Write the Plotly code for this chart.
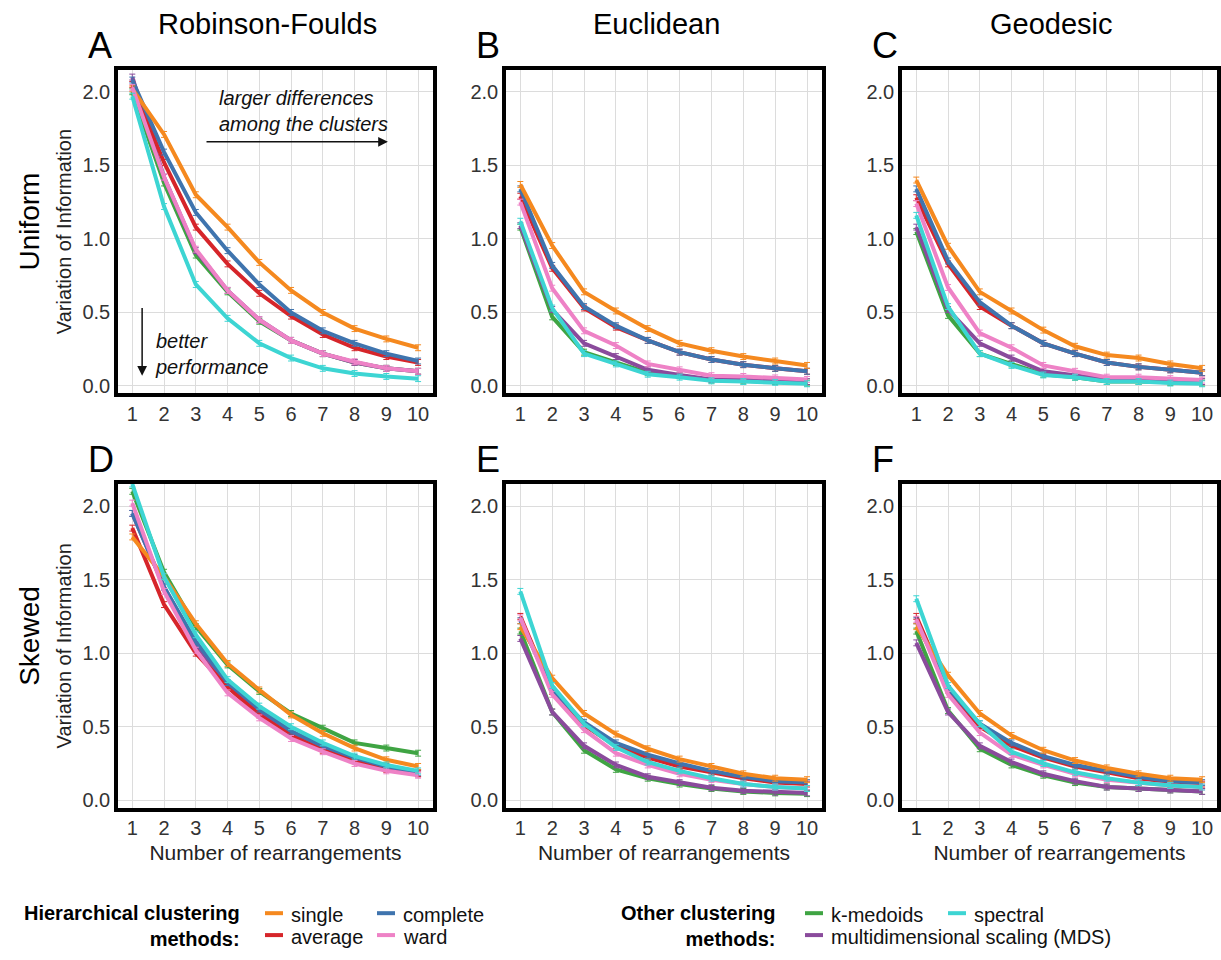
import plotly.graph_objects as go

REARR = [1, 2, 3, 4, 5, 6, 7, 8, 9, 10]
METHODS = ["k-medoids", "multidimensional scaling (MDS)", "average", "complete",
           "single", "ward", "spectral"]
COLORS = {
    "single": "#F5891F",
    "average": "#D6252A",
    "complete": "#3F74AE",
    "ward": "#EE82C6",
    "k-medoids": "#3FA443",
    "multidimensional scaling (MDS)": "#8A4B9C",
    "spectral": "#3DD5D3",
}
ERR = 0.02

# Panel A: Robinson-Foulds, Uniform
A_single   = [2.02, 1.71, 1.30, 1.08, 0.84, 0.65, 0.50, 0.39, 0.32, 0.26]
A_complete = [2.08, 1.59, 1.18, 0.92, 0.69, 0.50, 0.375, 0.29, 0.22, 0.17]
A_average  = [2.05, 1.52, 1.08, 0.83, 0.63, 0.475, 0.35, 0.26, 0.20, 0.16]
A_ward     = [2.03, 1.42, 0.93, 0.65, 0.45, 0.31, 0.22, 0.165, 0.12, 0.10]
A_kmed     = [2.00, 1.38, 0.89, 0.64, 0.44, 0.31, 0.22, 0.16, 0.12, 0.10]
A_mds      = [2.10, 1.42, 0.92, 0.65, 0.45, 0.31, 0.22, 0.16, 0.12, 0.10]
A_spectral = [1.97, 1.22, 0.69, 0.46, 0.29, 0.19, 0.12, 0.085, 0.065, 0.05]

# Panel B: Euclidean, Uniform
B_single   = [1.37, 0.955, 0.64, 0.51, 0.39, 0.29, 0.24, 0.20, 0.17, 0.14]
B_complete = [1.34, 0.82, 0.54, 0.41, 0.31, 0.23, 0.18, 0.145, 0.12, 0.10]
B_average  = [1.29, 0.80, 0.53, 0.40, 0.31, 0.23, 0.18, 0.145, 0.12, 0.10]
B_ward     = [1.25, 0.665, 0.375, 0.275, 0.15, 0.11, 0.07, 0.065, 0.055, 0.045]
B_kmed     = [1.08, 0.47, 0.23, 0.16, 0.09, 0.07, 0.04, 0.035, 0.03, 0.02]
B_mds      = [1.09, 0.52, 0.29, 0.20, 0.11, 0.075, 0.045, 0.045, 0.035, 0.03]
B_spectral = [1.12, 0.53, 0.22, 0.15, 0.08, 0.06, 0.035, 0.03, 0.025, 0.015]

# Panel C: Geodesic, Uniform
C_single   = [1.40, 0.95, 0.64, 0.51, 0.38, 0.27, 0.21, 0.19, 0.15, 0.12]
C_complete = [1.34, 0.85, 0.57, 0.41, 0.29, 0.22, 0.16, 0.13, 0.11, 0.09]
C_average  = [1.28, 0.83, 0.54, 0.41, 0.29, 0.22, 0.16, 0.13, 0.11, 0.09]
C_ward     = [1.24, 0.67, 0.36, 0.26, 0.14, 0.10, 0.06, 0.06, 0.05, 0.04]
C_kmed     = [1.05, 0.48, 0.22, 0.15, 0.08, 0.06, 0.03, 0.03, 0.025, 0.02]
C_mds      = [1.08, 0.52, 0.29, 0.19, 0.10, 0.07, 0.045, 0.045, 0.035, 0.03]
C_spectral = [1.16, 0.54, 0.22, 0.14, 0.075, 0.06, 0.03, 0.03, 0.02, 0.015]

# Panel D: Robinson-Foulds, Skewed
D_single   = [1.79, 1.52, 1.20, 0.93, 0.75, 0.58, 0.455, 0.355, 0.275, 0.23]
D_complete = [1.95, 1.45, 1.08, 0.80, 0.62, 0.47, 0.37, 0.29, 0.23, 0.19]
D_average  = [1.85, 1.33, 1.00, 0.77, 0.58, 0.44, 0.34, 0.27, 0.21, 0.18]
D_ward     = [2.02, 1.42, 1.02, 0.73, 0.56, 0.42, 0.33, 0.25, 0.20, 0.17]
D_kmed     = [2.10, 1.55, 1.18, 0.92, 0.74, 0.59, 0.49, 0.39, 0.355, 0.32]
D_mds      = [1.95, 1.45, 1.06, 0.78, 0.60, 0.45, 0.35, 0.28, 0.22, 0.18]
D_spectral = [2.15, 1.52, 1.125, 0.82, 0.64, 0.50, 0.39, 0.30, 0.24, 0.20]

# Panel E: Euclidean, Skewed
E_single   = [1.18, 0.83, 0.59, 0.45, 0.35, 0.28, 0.23, 0.18, 0.15, 0.14]
E_complete = [1.22, 0.75, 0.53, 0.39, 0.31, 0.25, 0.20, 0.16, 0.13, 0.12]
E_average  = [1.25, 0.74, 0.51, 0.37, 0.29, 0.23, 0.19, 0.15, 0.12, 0.11]
E_ward     = [1.24, 0.72, 0.48, 0.32, 0.24, 0.18, 0.14, 0.11, 0.09, 0.08]
E_kmed     = [1.15, 0.60, 0.34, 0.21, 0.15, 0.11, 0.08, 0.06, 0.05, 0.045]
E_mds      = [1.10, 0.60, 0.37, 0.24, 0.16, 0.12, 0.085, 0.065, 0.055, 0.05]
E_spectral = [1.42, 0.78, 0.52, 0.36, 0.26, 0.20, 0.15, 0.11, 0.09, 0.08]

# Panel F: Geodesic, Skewed
F_single   = [1.18, 0.85, 0.59, 0.44, 0.34, 0.27, 0.22, 0.18, 0.15, 0.14]
F_complete = [1.22, 0.76, 0.52, 0.39, 0.30, 0.24, 0.20, 0.16, 0.13, 0.12]
F_average  = [1.25, 0.75, 0.50, 0.37, 0.29, 0.23, 0.19, 0.15, 0.12, 0.11]
F_ward     = [1.23, 0.72, 0.46, 0.31, 0.24, 0.18, 0.14, 0.12, 0.10, 0.09]
F_kmed     = [1.15, 0.61, 0.35, 0.24, 0.17, 0.12, 0.09, 0.08, 0.07, 0.06]
F_mds      = [1.07, 0.60, 0.37, 0.26, 0.18, 0.13, 0.09, 0.08, 0.07, 0.06]
F_spectral = [1.37, 0.78, 0.52, 0.33, 0.25, 0.19, 0.15, 0.12, 0.10, 0.09]

PANELS = {
    "A": dict(zip(METHODS, [A_kmed, A_mds, A_average, A_complete, A_single, A_ward, A_spectral])),
    "B": dict(zip(METHODS, [B_kmed, B_mds, B_average, B_complete, B_single, B_ward, B_spectral])),
    "C": dict(zip(METHODS, [C_kmed, C_mds, C_average, C_complete, C_single, C_ward, C_spectral])),
    "D": dict(zip(METHODS, [D_kmed, D_mds, D_average, D_complete, D_single, D_ward, D_spectral])),
    "E": dict(zip(METHODS, [E_kmed, E_mds, E_average, E_complete, E_single, E_ward, E_spectral])),
    "F": dict(zip(METHODS, [F_kmed, F_mds, F_average, F_complete, F_single, F_ward, F_spectral])),
}
COL_TITLES = ["Robinson-Foulds", "Euclidean", "Geodesic"]
ROW_TITLES = ["Uniform", "Skewed"]
Y_TICKS = [0.0, 0.5, 1.0, 1.5, 2.0]

W, H = 1221, 960
FONT = "Arial, Liberation Sans, Helvetica, sans-serif"

# pixel boxes of plot areas (left, right) and (top, bottom)
COLS_PX = [(118, 433), (506, 822), (902, 1217)]
ROWS_PX = [(70, 395), (486, 811)]

def px(x):
    return x / W

def py(y):
    return 1 - y / H

fig = go.Figure()
layout = dict(
    width=W, height=H, margin=dict(l=0, r=0, t=0, b=0),
    plot_bgcolor="white", paper_bgcolor="white",
    font=dict(family=FONT, color="#333333"),
    showlegend=False,
)
annotations = []
shapes = []

letters = ["A", "B", "C", "D", "E", "F"]
for idx, letter in enumerate(letters):
    r, c = divmod(idx, 3)
    n = idx + 1
    xa = "x" if n == 1 else f"x{n}"
    ya = "y" if n == 1 else f"y{n}"
    xkey = "xaxis" if n == 1 else f"xaxis{n}"
    ykey = "yaxis" if n == 1 else f"yaxis{n}"
    l, rt = COLS_PX[c]
    t, b = ROWS_PX[r]
    layout[xkey] = dict(
        domain=[px(l), px(rt)], anchor=ya, range=[0.55, 10.47],
        tickvals=REARR, ticktext=[str(v) for v in REARR],
        showgrid=True, gridcolor="#dcdcdc", gridwidth=1, zeroline=False,
        showline=True, mirror=True, linecolor="black", linewidth=3.5,
        ticks="", tickfont=dict(size=20, color="#333333", family=FONT),
        title=dict(text="Number of rearrangements" if r == 1 else "",
                   font=dict(size=21, color="#222222", family=FONT), standoff=8),
    )
    layout[ykey] = dict(
        domain=[py(b), py(t)], anchor=xa, range=[-0.05, 2.15],
        tickvals=Y_TICKS, ticktext=[f"{v:.1f}" for v in Y_TICKS],
        showgrid=True, gridcolor="#dcdcdc", gridwidth=1, zeroline=False,
        showline=True, mirror=True, linecolor="black", linewidth=3.5,
        ticks="", tickfont=dict(size=20, color="#333333", family=FONT),
        title=dict(text="Variation of Information" if c == 0 else "",
                   font=dict(size=20, color="#222222", family=FONT), standoff=6),
    )
    for m in METHODS:
        fig.add_trace(go.Scatter(
            x=REARR, y=PANELS[letter][m], mode="lines", name=m,
            line=dict(color=COLORS[m], width=4),
            error_y=dict(type="constant", value=ERR, thickness=1, width=3,
                         color=COLORS[m]),
            xaxis=xa, yaxis=ya, hoverinfo="x+y+name",
        ))
    # panel letter
    annotations.append(dict(
        text=letter, x=px(l - 32), y=py(t - 2), xref="paper", yref="paper",
        xanchor="left", yanchor="bottom", showarrow=False,
        font=dict(size=36, color="black", family=FONT)))

# column titles
for c, title in enumerate(COL_TITLES):
    l, rt = COLS_PX[c]
    annotations.append(dict(
        text=title, x=px((l + rt) / 2 - 8), y=py(24), xref="paper", yref="paper",
        xanchor="center", yanchor="middle", showarrow=False,
        font=dict(size=29, color="black", family=FONT)))

# row titles
for r, title in enumerate(ROW_TITLES):
    t, b = ROWS_PX[r]
    annotations.append(dict(
        text=title, x=px(30), y=py((t + b) / 2 - 10), xref="paper", yref="paper",
        xanchor="center", yanchor="middle", showarrow=False, textangle=-90,
        font=dict(size=28, color="black", family=FONT)))

# annotations in panel A
annotations.append(dict(
    text="<i>larger differences<br>among the clusters</i>", x=3.68, y=1.87,
    xref="x", yref="y", xanchor="left", yanchor="middle", align="left",
    showarrow=False, font=dict(size=20, color="#111111", family=FONT)))
annotations.append(dict(
    x=9.05, y=1.66, ax=3.29, ay=1.66, xref="x", yref="y", axref="x", ayref="y",
    text="", showarrow=True, arrowhead=2, arrowsize=1.3, arrowwidth=1.5,
    arrowcolor="#111111"))
annotations.append(dict(
    text="<i>better<br>performance</i>", x=1.65, y=0.22,
    xref="x", yref="y", xanchor="left", yanchor="middle", align="left",
    showarrow=False, font=dict(size=20, color="#111111", family=FONT)))
annotations.append(dict(
    x=1.31, y=0.07, ax=1.31, ay=0.54, xref="x", yref="y", axref="x", ayref="y",
    text="", showarrow=True, arrowhead=2, arrowsize=1.3, arrowwidth=1.5,
    arrowcolor="#111111"))

# custom legend
LEG_ROW_Y = [919, 941]
legend_groups = [
    dict(title="Hierarchical clustering<br>methods:", title_right=242,
         items=[("single", 265, 0), ("average", 265, 1),
                ("complete", 377, 0), ("ward", 377, 1)]),
    dict(title="Other clustering<br>methods:", title_right=777,
         items=[("k-medoids", 805, 0), ("multidimensional scaling (MDS)", 805, 1),
                ("spectral", 948, 0)]),
]
for g in legend_groups:
    annotations.append(dict(
        text="<b>" + g["title"] + "</b>", x=px(g["title_right"]), y=py(930),
        xref="paper", yref="paper", xanchor="right", yanchor="middle", align="right",
        showarrow=False, font=dict(size=20, color="black", family=FONT)))
    for name, x0, row in g["items"]:
        yy = LEG_ROW_Y[row]
        shapes.append(dict(type="line", xref="paper", yref="paper",
                           x0=px(x0), x1=px(x0 + 18), y0=py(yy - 2), y1=py(yy - 2),
                           line=dict(color=COLORS[name], width=4)))
        annotations.append(dict(
            text=name, x=px(x0 + 24), y=py(yy), xref="paper", yref="paper",
            xanchor="left", yanchor="middle", showarrow=False,
            font=dict(size=20, color="#111111", family=FONT)))

layout["annotations"] = annotations
layout["shapes"] = shapes
fig.update_layout(**layout)
fig.write_html(
    "out.html",
    config={"displayModeBar": False},
    post_script="document.body.style.margin='0px';document.body.style.overflow='hidden';",
)
